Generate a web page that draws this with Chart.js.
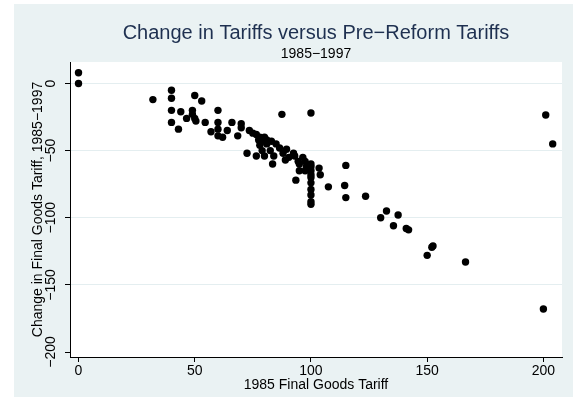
<!DOCTYPE html>
<html>
<head>
<meta charset="utf-8">
<script src="https://cdn.jsdelivr.net/npm/chart.js@4.4.1/dist/chart.umd.min.js"></script>
<style>
  html, body { margin: 0; padding: 0; background: #fff; }
</style>
</head>
<body>
<canvas id="chart" width="573" height="408"></canvas>
<script>
// 1985 final goods tariff (x) and change 1985-1997 (y)
const tariff1985 = [0, 0, 32, 40, 40, 40, 40, 43, 44, 46.5, 49, 49, 50, 50, 50.5, 53, 54.5, 57,
    60, 60, 60, 60, 62, 64, 66, 68.5, 70, 70, 73.5, 72.5, 75, 76.5, 76.5, 77.5, 78, 78, 79, 79,
    80, 80, 81, 81, 83, 82.5, 84, 83.5, 85, 86.5, 87.5, 88, 89.5, 89, 90.5, 92.5, 93, 93.5, 94.5,
    95, 95, 96.5, 97.5, 97.5, 98, 100, 100, 100, 100, 100, 100, 100, 100, 100, 100, 100,
    103.5, 104, 107.5, 115, 114.5, 115, 123.5, 132.5, 130, 137.5, 135.5, 141, 142,
    152.5, 152, 150, 166.5, 200, 201, 204];
const tariffChange = [8, 0, -12, -5, -11, -20, -29, -34, -21, -26, -20, -23, -9, -26, -28, -13, -29, -36,
    -20, -29, -34, -39, -40, -35, -29, -39, -30, -33, -35, -52, -37, -38, -54, -42, -40, -46, -43, -50,
    -40, -54, -42, -45, -43, -50, -54, -60, -45, -48, -23, -52, -49, -57, -55, -52, -54, -72, -58,
    -60, -65, -55, -58, -65, -62, -22, -60, -62, -65, -68, -70, -74, -79, -83, -88, -90,
    -63, -68, -77, -61, -76, -85, -84, -95, -100, -98, -106, -108, -109,
    -121, -122, -128, -133, -168, -23.5, -45];
const xTicks = [0, 50, 100, 150, 200];
const yTicks = [0, -50, -100, -150, -200];

const FONT = "'Liberation Sans', Arial, Helvetica, sans-serif";
const minus = (v) => String(v).replace("-", "\u2212");

const points = tariff1985.map((x, i) => ({ x: x, y: tariffChange[i] }));

// stata-like backdrop: light graph region, white plot region
const backdrop = {
    id: "backdrop",
    beforeDraw(chart) {
        const { ctx, chartArea: a } = chart;
        ctx.save();
        ctx.fillStyle = "#ffffff";
        ctx.fillRect(0, 0, chart.width, chart.height);
        ctx.fillStyle = "#eaf2f3";
        ctx.fillRect(14, 4, chart.width - 14, 393);
        ctx.fillStyle = "#ffffff";
        ctx.fillRect(a.left, a.top, a.right - a.left, a.bottom - a.top);
        ctx.restore();
    },
};

new Chart(document.getElementById("chart"), {
    type: "scatter",
    data: {
        datasets: [{
            data: points,
            backgroundColor: "#000000",
            borderWidth: 0,
            pointRadius: 3.7,
        }],
    },
    plugins: [backdrop],
    options: {
        responsive: false,
        animation: false,
        layout: { padding: { left: 0, right: 11, top: 0, bottom: 0 } },
        plugins: {
            legend: { display: false },
            tooltip: { enabled: false },
            title: {
                display: true,
                fullSize: false,
                text: "Change in Tariffs versus Pre\u2212Reform Tariffs",
                color: "#1e3050",
                font: { family: FONT, size: 20, weight: "normal", lineHeight: 1.2 },
                padding: { top: 21, bottom: 2 },
            },
            subtitle: {
                display: true,
                fullSize: false,
                text: "1985\u22121997",
                color: "#000000",
                font: { family: FONT, size: 14, weight: "normal", lineHeight: 1 },
                padding: { top: 0, bottom: 1 },
            },
        },
        scales: {
            x: {
                type: "linear",
                min: -3.66,
                max: 208,
                afterBuildTicks: (scale) => { scale.ticks = xTicks.map((v) => ({ value: v })); },
                afterFit: (scale) => { scale.height = 51; },
                grid: { drawOnChartArea: false, drawTicks: true, tickLength: 5, tickColor: "#000" },
                border: { display: true, color: "#000", width: 1 },
                ticks: {
                    color: "#000",
                    padding: 1,
                    maxRotation: 0,
                    font: { family: FONT, size: 14 },
                    callback: (v) => minus(v),
                },
                title: {
                    display: true,
                    text: "1985 Final Goods Tariff",
                    color: "#000",
                    font: { family: FONT, size: 14 },
                    padding: { top: 0, bottom: 14 },
                },
            },
            y: {
                type: "linear",
                min: -203.7,
                max: 16,
                afterBuildTicks: (scale) => { scale.ticks = yTicks.map((v) => ({ value: v })); },
                afterFit: (scale) => { scale.width = 70; },
                grid: {
                    drawTicks: true,
                    tickLength: 5,
                    tickColor: "#000",
                    lineWidth: 1,
                    color: (c) => (c.tick && c.tick.value === -200 ? "rgba(0,0,0,0)" : "#e4eef0"),
                },
                border: { display: true, color: "#000", width: 1 },
                ticks: {
                    color: "#000",
                    padding: -2,
                    minRotation: 90,
                    maxRotation: 90,
                    crossAlign: "center",
                    font: { family: FONT, size: 14 },
                    callback: (v) => minus(v),
                },
                title: {
                    display: true,
                    text: "Change in Final Goods Tariff, 1985\u22121997",
                    color: "#000",
                    font: { family: FONT, size: 14 },
                    padding: { top: 30, bottom: 0 },
                },
            },
        },
    },
});
</script>
</body>
</html>
